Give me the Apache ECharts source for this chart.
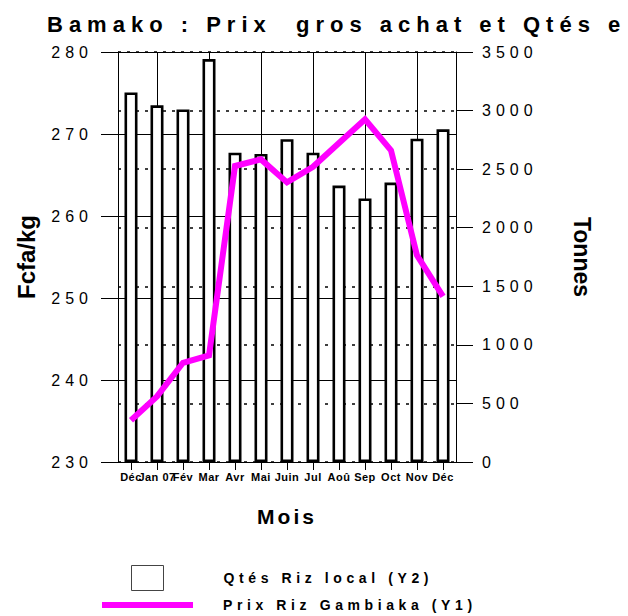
<!DOCTYPE html>
<html>
<head>
<meta charset="utf-8">
<script src="https://cdn.jsdelivr.net/npm/echarts@6/dist/echarts.min.js"></script>
<style>
html, body { margin: 0; padding: 0; background: #fff; }
#chart { width: 628px; height: 616px; }
#chart text[style*="22px"] { letter-spacing: 6px; }
#chart text[style*="16px"] { letter-spacing: 5px; }
#chart text[style*="14px"] { letter-spacing: 4.6px; }
#chart text[style*="21px"] { letter-spacing: 3px; }
#chart text[style*="11px"] { letter-spacing: 0.5px; }
</style>
</head>
<body>
<div id="chart"></div>
<script>
// ---- data ----
var titleText = 'Bamako : Prix  gros achat et Qtés e';
var months = ['Déc', 'Jan 07', 'Fév', 'Mar', 'Avr', 'Mai', 'Juin', 'Jul', 'Aoû', 'Sep', 'Oct', 'Nov', 'Déc'];
var qtesRizLocal = [3155, 3045, 3010, 3440, 2640, 2630, 2755, 2640, 2360, 2250, 2385, 2760, 2840];
var prixRizGambiaka = [235.1, 238.0, 242.1, 243.0, 266.1, 266.9, 264.1, 266.0, 268.9, 271.8, 268.0, 255.2, 250.2];
var leftTicks = { min: 230, max: 280, interval: 10 };
var rightTicks = { min: 0, max: 3500, interval: 500 };
var verticalGridMonths = [1, 3, 5, 7, 9, 11]; // category indices carrying a vertical grid line
var nameQ = 'Qtés Riz local (Y2)';
var nameP = 'Prix Riz Gambiaka (Y1)';

var FONT = 'Liberation Sans, Arial, sans-serif';
var chart = echarts.init(document.getElementById('chart'), null, { renderer: 'svg', width: 628, height: 616 });

chart.setOption({
  animation: false,
  backgroundColor: '#ffffff',
  title: {
    text: titleText,
    left: 42, top: 8,
    padding: 5,
    textStyle: { fontFamily: FONT, fontSize: 22, fontWeight: 'bold', color: '#000' }
  },
  legend: [
    {
      data: [nameQ],
      left: 131, top: 565,
      padding: 0,
      itemWidth: 32, itemHeight: 25,
      icon: 'rect',
      itemStyle: { color: '#fff', borderColor: '#444', borderWidth: 1 },
      textStyle: { fontFamily: FONT, fontSize: 14, fontWeight: 'bold', color: '#000', padding: [0, 0, 0, 55] },
      selectedMode: false
    },
    {
      data: [nameP],
      left: 102, top: 598,
      padding: 0,
      itemWidth: 91, itemHeight: 6,
      icon: 'rect',
      itemStyle: { color: '#ff00ff', borderWidth: 0 },
      lineStyle: { width: 0 },
      textStyle: { fontFamily: FONT, fontSize: 14, fontWeight: 'bold', color: '#000', padding: [0, 0, 0, 25] },
      selectedMode: false
    }
  ],
  grid: { left: 118, right: 172, top: 52, bottom: 154, containLabel: false, outerBoundsMode: 'none' },
  xAxis: {
    type: 'category',
    data: months,
    name: 'Mois',
    nameLocation: 'middle',
    nameGap: 44,
    nameTextStyle: { fontFamily: FONT, fontSize: 21, fontWeight: 'bold', color: '#000' },
    axisLine: { show: true, lineStyle: { color: '#000', width: 1 } },
    axisTick: { show: true, alignWithLabel: true, length: 8, lineStyle: { color: '#000' } },
    axisLabel: { interval: 0, margin: 9, fontFamily: FONT, fontSize: 11, fontWeight: 'bold', color: '#000', hideOverlap: false },
    splitLine: { show: false }
  },
  yAxis: [
    {
      type: 'value',
      min: leftTicks.min, max: leftTicks.max, interval: leftTicks.interval,
      position: 'left',
      name: 'Fcfa/kg',
      nameLocation: 'middle',
      nameRotate: 90,
      nameGap: 80,
      nameTextStyle: { fontFamily: FONT, fontSize: 24, fontWeight: 'bold', color: '#000' },
      axisLine: { show: true, lineStyle: { color: '#000', width: 1 } },
      axisTick: { show: true, length: 17, lineStyle: { color: '#000' } },
      axisLabel: { margin: 25, fontFamily: FONT, fontSize: 16, color: '#000' },
      splitLine: { show: true, lineStyle: { color: '#000', width: 1 } }
    },
    {
      type: 'value',
      min: rightTicks.min, max: rightTicks.max, interval: rightTicks.interval,
      position: 'right',
      name: 'Tonnes',
      nameLocation: 'middle',
      nameRotate: -90,
      nameGap: 114,
      nameTextStyle: { fontFamily: FONT, fontSize: 23, fontWeight: 'bold', color: '#000' },
      axisLine: { show: true, lineStyle: { color: '#000', width: 1 } },
      axisTick: { show: true, length: 17, lineStyle: { color: '#000' } },
      axisLabel: { margin: 26, fontFamily: FONT, fontSize: 16, color: '#000', formatter: function (v) { return String(v); } },
      splitLine: { show: true, lineStyle: { color: '#000', width: 1.6, type: [3, 6] } }
    }
  ],
  series: [
    {
      name: nameQ,
      type: 'bar',
      yAxisIndex: 1,
      data: qtesRizLocal,
      barWidth: 13,
      itemStyle: { color: '#ffffff', borderColor: '#000', borderWidth: 2.6 },
      z: 3,
      markLine: {
        silent: true,
        symbol: ['none', 'none'],
        z: 1,
        label: { show: false },
        lineStyle: { color: '#000', width: 1, type: 'solid' },
        data: verticalGridMonths.map(function (i) { return { xAxis: i }; })
      }
    },
    {
      name: nameP,
      type: 'line',
      yAxisIndex: 0,
      data: prixRizGambiaka,
      showSymbol: false,
      symbol: 'none',
      lineStyle: { color: '#ff00ff', width: 6, join: 'miter' },
      itemStyle: { color: '#ff00ff' },
      z: 5
    }
  ]
});
</script>
</body>
</html>
